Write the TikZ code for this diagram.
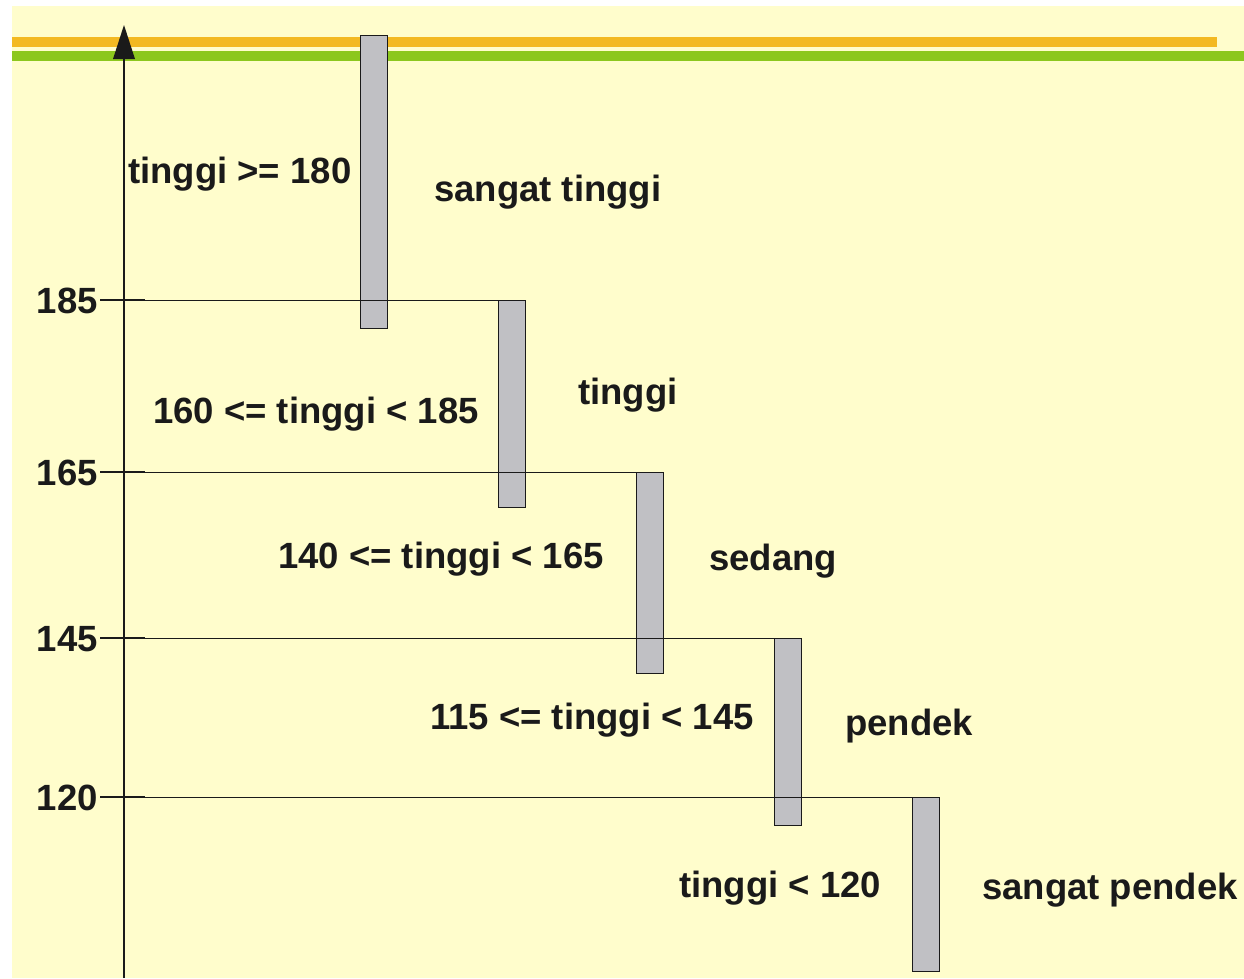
\documentclass[tikz,border=0pt]{standalone}
\usepackage{fontspec}
\setmainfont{Liberation Sans}
\definecolor{paper}{HTML}{FFFDCC}
\definecolor{bandorange}{HTML}{F3B922}
\definecolor{bandgreen}{HTML}{8CC71E}
\definecolor{barfill}{HTML}{C0C0C4}
\definecolor{ink}{HTML}{1A1A1A}
\begin{document}
\begin{tikzpicture}[x=1pt,y=-1pt,
  lbl/.style={anchor=base west,inner sep=0pt,text=ink,
    font=\fontsize{36.5}{40}\selectfont\bfseries},
  numlbl/.style={lbl,anchor=base east},
  bar/.style={draw=ink,line width=1.3pt,fill=barfill,rectangle,
    anchor=north west,inner sep=0pt,minimum width=27pt},
  level/.style={draw=ink,line width=0.9pt},
  tick/.style={draw=ink,line width=1.8pt},
  axis/.style={draw=ink,line width=2pt}]
\useasboundingbox (0,0) rectangle (1244,978);
\fill[paper] (12,6) rectangle (1244,978);
% header bands
\fill[bandorange] (12,37) rectangle (1217,47);
\fill[bandgreen] (12,51) rectangle (1244,61);

% vertical axis with its arrow head
\coordinate (axbot) at (124,978);
\coordinate (axtop) at (124,58);
\draw[axis] (axbot) -- (axtop);
\fill[ink] (124,25) -- (135,59) -- (113,59) -- cycle;

% the five class bars
\node[bar,minimum height=293pt] (b1) at (360,35) {};
\node[bar,minimum height=207pt] (b2) at (498,300) {};
\node[bar,minimum height=201pt] (b3) at (636,472) {};
\node[bar,minimum height=187pt] (b4) at (774,638) {};
\node[bar,minimum height=174pt] (b5) at (912,797) {};

% level lines with ticks
\coordinate (t185) at (100,300);
\coordinate (t165) at (100,472);
\coordinate (t145) at (100,638);
\coordinate (t120) at (100,797);
\draw[level] (t185) -- (b2.north east);
\draw[level] (t165) -- (b3.north east);
\draw[level] (t145) -- (b4.north east);
\draw[level] (t120) -- (b5.north east);
\foreach \c in {t185,t165,t145,t120}
  \draw[tick] (\c) -- ++(45,0);

% axis values
\node[numlbl] (v185) at (98,313) {185};
\node[numlbl] (v165) at (98,485) {165};
\node[numlbl] (v145) at (98,651) {145};
\node[numlbl] (v120) at (98,810) {120};

% ranges and class names
\node[lbl] (r1) at (128,183) {tinggi >= 180};
\node[lbl] (c1) at (434,201) {sangat tinggi};
\node[lbl] (r2) at (153,423) {160 <= tinggi < 185};
\node[lbl] (c2) at (578,404) {tinggi};
\node[lbl] (r3) at (278,568) {140 <= tinggi < 165};
\node[lbl] (c3) at (709,570) {sedang};
\node[lbl] (r4) at (430,729) {115 <= tinggi < 145};
\node[lbl] (c4) at (845,735) {pendek};
\node[lbl] (r5) at (679,897) {tinggi < 120};
\node[lbl] (c5) at (982,899) {sangat pendek};
\end{tikzpicture}
\end{document}
